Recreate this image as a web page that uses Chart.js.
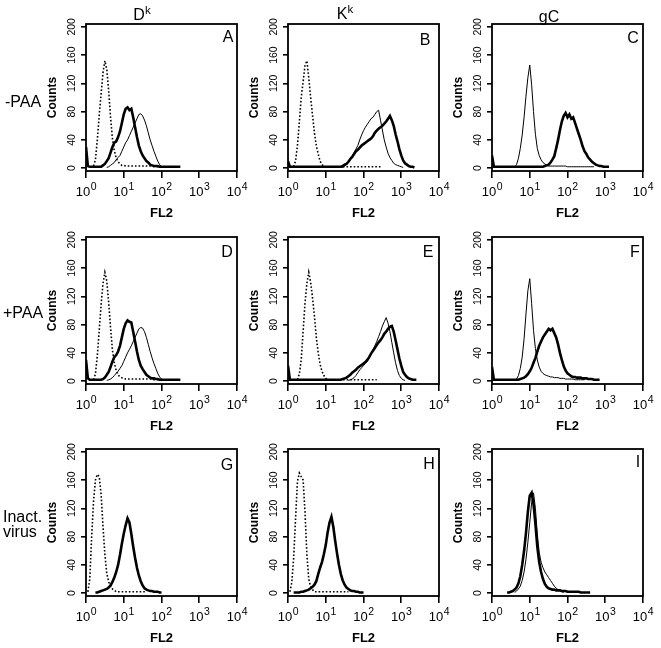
<!DOCTYPE html>
<html>
<head>
<meta charset="utf-8">
<script src="https://cdn.jsdelivr.net/npm/chart.js@4/dist/chart.umd.min.js"></script>
<style>
body{margin:0;background:#fff;width:661px;height:648px;position:relative;overflow:hidden;font-family:"Liberation Sans",Arial,Helvetica,sans-serif;color:#000}
canvas{position:absolute}
.t{position:absolute;font-size:16px;line-height:16px;white-space:nowrap;z-index:2}
.c{transform:translateX(-50%)}
.sup{position:relative;top:-0.45em;font-size:0.72em}
</style>
</head>
<body>
<div class="t c" style="left:142px;top:6.5px">D<span class="sup">k</span></div>
<div class="t c" style="left:345px;top:5.5px">K<span class="sup">k</span></div>
<div class="t c" style="left:549px;top:8.5px">gC</div>
<div class="t" style="left:5px;top:93.5px">-PAA</div>
<div class="t" style="left:3px;top:304.5px">+PAA</div>
<div class="t" style="left:3px;top:509px;line-height:15px">Inact.<br>virus</div>
<div class="t c" style="left:228px;top:28.5px">A</div>
<div class="t c" style="left:425px;top:31.5px">B</div>
<div class="t c" style="left:633px;top:29.5px">C</div>
<div class="t c" style="left:227px;top:243.5px">D</div>
<div class="t c" style="left:428px;top:243.5px">E</div>
<div class="t c" style="left:635px;top:243.5px">F</div>
<div class="t c" style="left:227px;top:456.5px">G</div>
<div class="t c" style="left:429px;top:455.5px">H</div>
<div class="t c" style="left:638px;top:453.5px">I</div>
<script>
const _ = null;

// FL2 channels, 20 per decade
const chan = [
  1, 1.122, 1.259, 1.413, 1.585, 1.778, 1.995, 2.239, 2.512, 2.818,
  3.162, 3.548, 3.981, 4.467, 5.012, 5.623, 6.310, 7.079, 7.943, 8.913,
  10, 11.22, 12.59, 14.13, 15.85, 17.78, 19.95, 22.39, 25.12, 28.18,
  31.62, 35.48, 39.81, 44.67, 50.12, 56.23, 63.10, 70.79, 79.43, 89.13,
  100, 112.2, 125.9, 141.3, 158.5, 177.8, 199.5, 223.9, 251.2, 281.8,
  316.2, 354.8, 398.1, 446.7, 501.2, 562.3, 631.0, 707.9, 794.3, 891.3,
  1000, 1122, 1259, 1413, 1585, 1778, 1995, 2239, 2512, 2818,
  3162, 3548, 3981, 4467, 5012, 5623, 6310, 7079, 7943, 8913,
  10000
];
const xTicks = [1, 10, 100, 1000, 10000];
const xTickBase = '10';
const xTickExp = ['0', '1', '2', '3', '4'];
const yTicks = [0, 40, 80, 120, 160, 200];

// Dk, -PAA
const aDot = [_,_,_,_,3,12,40,75,105,135, 152,140,110,72,42,25,14,9,6,4, 4,3,3,3,3,3,3,3,3,3, 3,3,3,3,3,3,2,2,2,2, 2,2,2,2,2,2,2,2,2,2, 2];
const aThin = [_,_,_,_,_,_,_,_,_,_, _,1,2,4,6,8,12,15,18,24, 30,36,40,46,52,58,64,70,76,77, 74,68,60,50,40,32,24,17,10,5, 2,1];
const aThick = [30,3,2,2,2,2,2,2,2,4, 6,10,14,22,30,36,38,44,52,64, 76,84,86,82,84,72,58,44,32,24, 18,14,10,8,5,4,3,3,3,2, 2,2,2,2,2,2,2,2,2,2, 2];
// Kk, -PAA
const bDot = [_,_,_,2,10,32,65,100,122,145, 152,128,100,75,50,32,20,10,5,3, 2,2,2,2,2,2,2,2,2,2, 2,2,2,2,2,2,2,2,2,2, 2,2,2,2,2,2,2,2,2,2, 2];
const bThin = [_,_,_,_,_,_,_,_,_,_, _,_,_,_,_,_,_,_,_,_, _,_,_,_,_,_,_,_,1,1, 3,5,8,12,17,22,27,32,40,47, 53,58,62,66,70,72,76,80,82,68, 54,40,30,21,15,11,7,5,4,3, 2,1];
const bThick = [10,2,2,2,2,2,2,2,2,2, 2,2,2,2,2,2,2,2,2,2, 2,2,2,2,2,2,2,2,2,3, 5,6,9,13,16,20,24,26,29,32, 34,36,38,40,42,45,50,53,56,58, 60,63,66,70,74,68,60,48,38,27, 18,11,7,5,3,2,2,1];
// gC, -PAA
const cThin = [_,_,_,_,_,_,_,_,_,_, 1,1,2,5,14,28,47,72,102,128, 146,118,80,48,28,18,12,8,6,4, 3,3,3,3,3,3,3,3,3,3, 2,2,2,2,2,2,2,2,2,2, 2,2,2,2,2];
const cThick = [18,2,2,2,2,2,2,2,2,2, 2,2,2,2,2,2,2,2,2,2, 2,2,2,2,2,2,2,2,3,4, 5,8,12,17,28,40,54,66,74,78, 72,76,70,72,64,56,48,40,31,24, 20,15,12,9,7,5,4,3,3,2, 2,2,2];
// Dk, +PAA
const dDot = [_,_,_,_,2,10,36,72,108,138, 154,142,112,76,44,26,15,9,6,5, 4,3,3,3,3,3,3,3,3,3, 3,3,3,3,3,3,2,2,2,2, 2,2,2,2,2,2,2,2,2,2, 2];
const dThin = [_,_,_,_,_,_,_,_,_,_, _,1,2,3,5,8,11,14,18,22, 28,34,40,45,50,56,62,68,74,76, 75,70,62,52,42,33,25,18,11,6, 3,1];
const dThick = [30,4,2,2,2,2,2,2,2,3, 5,9,13,20,28,34,37,42,50,62, 74,82,86,84,83,70,56,42,30,22, 17,13,9,7,5,4,4,3,3,2, 2,2,2,2,2,2,2,2,2,2, 2];
// Kk, +PAA
const eDot = [_,_,_,_,_,2,10,30,70,110, 138,154,140,118,92,62,40,24,14,8, 4,2,2,2,2,2,2,2,2,2, 2,2,2,2,2,2,2,2,2,2, 2,2,2,2,2,2,2,2];
const eThin = [_,_,_,_,_,_,_,_,_,_, _,_,_,_,_,_,_,_,_,_, _,_,_,_,_,_,_,_,_,_, _,_,1,2,3,5,8,12,16,19, 22,25,28,33,38,44,50,56,63,70, 78,84,90,82,70,55,40,26,15,8, 4,2,1];
const eThick = [22,2,2,2,2,2,2,2,2,2, 2,2,2,2,2,2,2,2,2,2, 2,2,2,2,2,2,2,2,2,3, 4,5,7,9,12,14,16,19,21,23, 25,27,30,34,39,43,47,51,55,58, 62,67,70,74,77,78,70,58,45,32, 22,13,9,6,4,3,2,2,2];
// gC, +PAA
const fThin = [_,_,_,_,_,_,_,_,_,_, _,_,1,3,8,18,34,60,95,128, 145,110,72,46,30,20,14,11,9,8, 7,6,6,5,5,5,4,4,4,3, 3,3,3,3,2,2,2,2,2,2];
const fThick = [20,2,2,2,2,2,2,2,2,2, 2,2,2,2,2,3,4,5,7,10, 14,19,26,33,42,50,56,62,66,70, 74,72,74,68,62,52,40,30,21,15, 11,9,7,6,6,5,5,5,4,4, 4,3,3,3,2,2,2,2];
// inactivated virus
const gDot = [_,2,20,80,130,160,168,165,140,95, 55,28,16,10,6,4,2,2,2,2, 2,2,2,2,2,2,2,2,2,2, 2,2,2];
const gThick = [_,_,_,_,_,1,1,2,3,4, 5,6,8,11,16,22,30,40,54,70, 84,96,106,100,84,66,50,36,25,17, 11,7,5,4,3,3,2,2,2,1, 1];
const hDot = [_,2,15,50,105,158,170,165,160,115, 55,20,9,5,2,2,2,2,2,2, 2,2,2,2,2,2,2,2,2,2, 2,2,2];
const hThick = [_,_,_,1,1,1,1,2,2,3, 4,5,7,9,12,17,27,36,44,55, 68,86,100,108,94,74,56,40,27,18, 12,8,6,4,3,3,2,2,1,1, 1];
const iThin = [_,_,_,_,_,_,_,_,_,_, _,_,1,3,6,10,18,30,48,72, 100,128,142,120,84,58,44,36,30,26, 22,18,14,10,7,5,3,2,1];
const iThick = [_,_,_,_,_,_,_,_,1,1, 2,3,5,8,14,24,40,60,85,115, 138,142,126,98,66,44,30,20,13,9, 7,6,5,5,4,4,4,3,3,3, 2,2,2,2,2,2,2,1,1,1, 1,1,1];

const panels = [
  { left: 86,  top: 24,  dotted: aDot, thin: aThin, thick: aThick },
  { left: 288, top: 24,  dotted: bDot, thin: bThin, thick: bThick },
  { left: 492, top: 24,  dotted: null, thin: cThin, thick: cThick },
  { left: 86,  top: 237, dotted: dDot, thin: dThin, thick: dThick },
  { left: 288, top: 237, dotted: eDot, thin: eThin, thick: eThick },
  { left: 492, top: 237, dotted: null, thin: fThin, thick: fThick },
  { left: 86,  top: 449, dotted: gDot, thin: null,  thick: gThick },
  { left: 288, top: 449, dotted: hDot, thin: null,  thick: hThick },
  { left: 492, top: 449, dotted: null, thin: iThin, thick: iThick }
];

const FONT = '"Liberation Sans", Arial, Helvetica, sans-serif';
Chart.defaults.font.family = FONT;
Chart.defaults.color = '#000';

// full box around the plot area
const frame = {
  id: 'frame',
  afterDraw(chart) {
    const { ctx, chartArea: a } = chart;
    ctx.save();
    ctx.strokeStyle = '#000';
    ctx.lineWidth = 1.8;
    ctx.strokeRect(a.left, a.top, a.right - a.left, a.bottom - a.top);
    ctx.restore();
  }
};

// 10^n labels with a real superscript, placed on the x scale ticks
const powerLabels = {
  id: 'powerLabels',
  afterDraw(chart) {
    const { ctx, chartArea: a } = chart;
    const xs = chart.scales.x;
    ctx.save();
    ctx.fillStyle = '#000';
    ctx.textBaseline = 'alphabetic';
    ctx.textAlign = 'left';
    xTicks.forEach((v, i) => {
      const px = xs.getPixelForValue(v);
      ctx.font = '13px ' + FONT;
      const w1 = ctx.measureText(xTickBase).width;
      ctx.font = '10.5px ' + FONT;
      const w2 = ctx.measureText(xTickExp[i]).width;
      const x0 = px - (w1 + w2) / 2;
      const base = a.bottom + 25;
      ctx.font = '13px ' + FONT;
      ctx.fillText(xTickBase, x0, base);
      ctx.font = '10.5px ' + FONT;
      ctx.fillText(xTickExp[i], x0 + w1 + 0.5, base - 6);
    });
    ctx.restore();
  }
};

const AXW = 50, TOP = 10, PW = 151, PH = 147, XAH = 50, RPAD = 14;

panels.forEach(p => {
  const cv = document.createElement('canvas');
  cv.width = AXW + PW + RPAD;
  cv.height = TOP + PH + XAH;
  cv.style.left = (p.left - AXW) + 'px';
  cv.style.top = (p.top - TOP) + 'px';
  document.body.appendChild(cv);

  const sets = [];
  if (p.dotted) sets.push({ data: p.dotted, borderWidth: 1.6, borderDash: [1.6, 2] });
  if (p.thin) sets.push({ data: p.thin, borderWidth: 1 });
  sets.push({ data: p.thick, borderWidth: 2.6 });
  sets.forEach(s => { s.borderColor = '#000'; s.pointRadius = 0; s.tension = 0; s.fill = false; });

  new Chart(cv, {
    type: 'line',
    data: { labels: chan, datasets: sets },
    options: {
      responsive: false,
      animation: false,
      devicePixelRatio: 1,
      events: [],
      layout: { padding: { left: 0, top: TOP, right: RPAD, bottom: 0 } },
      plugins: { legend: { display: false }, tooltip: { enabled: false } },
      scales: {
        x: {
          type: 'logarithmic',
          min: 1,
          max: 10000,
          afterBuildTicks: s => { s.ticks = xTicks.map(v => ({ value: v, major: true })); },
          afterFit: s => { s.height = XAH; },
          border: { display: false },
          grid: { drawOnChartArea: false, drawTicks: true, tickLength: 7, color: '#000', lineWidth: 1.6 },
          ticks: { display: false },
          title: { display: true, text: 'FL2', font: { size: 13, weight: 'bold' }, padding: 0 }
        },
        y: {
          min: -4,
          max: 204,
          afterBuildTicks: s => { s.ticks = yTicks.map(v => ({ value: v })); },
          afterFit: s => { s.width = AXW; },
          border: { display: false },
          grid: { drawOnChartArea: false, drawTicks: true, tickLength: 5, color: '#000', lineWidth: 1.6 },
          ticks: {
            minRotation: 90, maxRotation: 90, crossAlign: 'center', padding: 0,
            font: { size: 10.5 }
          },
          title: { display: true, text: 'Counts', font: { size: 12, weight: 'bold' }, padding: { top: 9, bottom: 0 } }
        }
      }
    },
    plugins: [frame, powerLabels]
  });
});
</script>
</body>
</html>
